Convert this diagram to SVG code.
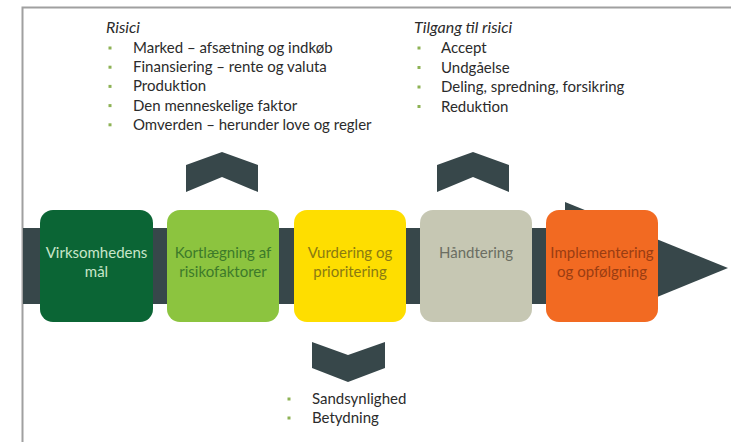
<svg xmlns="http://www.w3.org/2000/svg" width="731" height="442" viewBox="0 0 731 442">
<style>
.t{font-family:Lato,"Open Sans","Liberation Sans",sans-serif;font-size:15px;fill:#2b2b2b}
.h{font-style:italic;font-size:16px}
.b{fill:#8db255}
.bx{font-family:Lato,"Open Sans","Liberation Sans",sans-serif;font-size:15px;text-anchor:middle}
.dk{fill:#37474a}
</style>
<rect width="731" height="442" fill="#fff"/>
<path d="M22.5 442V7.5H731" fill="none" stroke="#a0a0a0" stroke-width="2"/>
<g id="connectors">
<rect class="dk" x="23" y="228" width="545" height="76"/>
<polygon class="dk" points="565,202 728,268 618,313 565,313"/>
<polygon id="up1" class="dk" points="222,152 258,165 258,192 222,177 186,192 186,165"/>
<polygon id="up2" class="dk" points="473,152 509,165 509,192 473,177 437,192 437,165"/>
<polygon id="down" class="dk" points="312,342 348,355 385,342 385,368 348,382 312,368"/>
</g>
<g id="n1"><rect x="40" y="210" width="113" height="112" rx="13" fill="#0b6535"/>
<text class="bx" x="96.5" y="258" fill="#c8e6c9">Virksomhedens</text><text class="bx" x="96.5" y="277" fill="#c8e6c9">mål</text></g>
<g id="n2"><rect x="167" y="210" width="112" height="112" rx="13" fill="#8cc43f"/>
<text class="bx" x="223" y="258" fill="#3d7a2a">Kortlægning af</text><text class="bx" x="223" y="277" fill="#3d7a2a">risikofaktorer</text></g>
<g id="n3"><rect x="294" y="210" width="112" height="112" rx="13" fill="#fede00"/>
<text class="bx" x="350" y="258" fill="#8a7a12">Vurdering og</text><text class="bx" x="350" y="277" fill="#8a7a12">prioritering</text></g>
<g id="n4"><rect x="420" y="210" width="112" height="112" rx="13" fill="#c6c7b3"/>
<text class="bx" x="476" y="258" fill="#6b6e62">Håndtering</text></g>
<g id="n5"><rect x="546" y="210" width="112" height="112" rx="13" fill="#f26a22"/>
<text class="bx" x="602" y="258" fill="#9a3d12">Implementering</text><text class="bx" x="602" y="277" fill="#9a3d12">og opfølgning</text></g>
<g id="risici">
<text class="t h" x="106" y="33">Risici</text>
<rect class="b" x="108.5" y="46.5" width="3" height="3"/><text class="t" x="133" y="53">Marked – afsætning og indkøb</text>
<rect class="b" x="108.5" y="65.7" width="3" height="3"/><text class="t" x="133" y="72.2">Finansiering – rente og valuta</text>
<rect class="b" x="108.5" y="84.9" width="3" height="3"/><text class="t" x="133" y="91.4">Produktion</text>
<rect class="b" x="108.5" y="104.1" width="3" height="3"/><text class="t" x="133" y="110.6">Den menneskelige faktor</text>
<rect class="b" x="108.5" y="123.3" width="3" height="3"/><text class="t" x="133" y="129.8">Omverden – herunder love og regler</text>
</g>
<g id="tilgang">
<text class="t h" x="414" y="33">Tilgang til risici</text>
<rect class="b" x="417.5" y="46.5" width="3" height="3"/><text class="t" x="441" y="53">Accept</text>
<rect class="b" x="417.5" y="66" width="3" height="3"/><text class="t" x="441" y="72.5">Undgåelse</text>
<rect class="b" x="417.5" y="85.5" width="3" height="3"/><text class="t" x="441" y="92">Deling, spredning, forsikring</text>
<rect class="b" x="417.5" y="105" width="3" height="3"/><text class="t" x="441" y="111.5">Reduktion</text>
</g>
<g id="vurdering">
<rect class="b" x="287.5" y="397.5" width="3" height="3"/><text class="t" x="312" y="404">Sandsynlighed</text>
<rect class="b" x="287.5" y="416.5" width="3" height="3"/><text class="t" x="312" y="423">Betydning</text>
</g>
</svg>
